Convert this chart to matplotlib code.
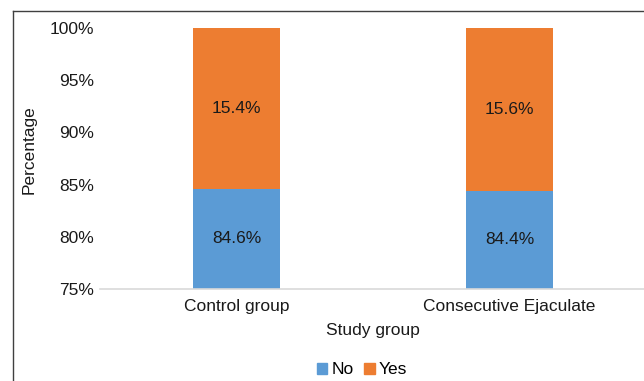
import matplotlib
matplotlib.use("Agg")
import matplotlib.pyplot as plt
from matplotlib.lines import Line2D
from matplotlib.ticker import FuncFormatter

plt.rcParams['font.family'] = ['Liberation Sans', 'DejaVu Sans']

categories = ["Control group", "Consecutive Ejaculate"]
no_vals = [84.6, 84.4]
yes_vals = [15.4, 15.6]
yticks = [75, 80, 85, 90, 95, 100]

blue = "#5B9BD5"
orange = "#ED7D31"
fs = 12.5
tc = "#1a1a1a"

fig = plt.figure(figsize=(6.44, 3.81), dpi=100)
ax = fig.add_axes([100/644, (381-289)/381, 546/644, 261/381])

x = list(range(len(categories)))
w = 0.32
ax.bar(x, no_vals, width=w, color=blue, label="No", zorder=2)
ax.bar(x, yes_vals, width=w, bottom=no_vals, color=orange, label="Yes", zorder=2)

ymin, ymax = 75, 100
ax.set_ylim(ymin, ymax)
ax.set_xlim(-0.5, 1.5)
ax.set_yticks(yticks)
ax.yaxis.set_major_formatter(FuncFormatter(lambda v, p: f"{v:.0f}%"))
ax.set_xticks(x)
ax.set_xticklabels(categories)

for i in x:
    lo = max(ymin, 0)
    hi = no_vals[i]
    ax.text(i, (lo + hi) / 2, f"{no_vals[i]:.1f}%", ha="center", va="center", fontsize=fs, color=tc)
    lo2 = no_vals[i]
    hi2 = min(ymax, no_vals[i] + yes_vals[i])
    ax.text(i, (lo2 + hi2) / 2, f"{yes_vals[i]:.1f}%", ha="center", va="center", fontsize=fs, color=tc)

for s in ["top", "right", "left"]:
    ax.spines[s].set_visible(False)
ax.spines["bottom"].set_color("#D9D9D9")
ax.spines["bottom"].set_linewidth(1.2)
ax.tick_params(axis="both", length=0, labelsize=fs, colors=tc)
ax.tick_params(axis="y", pad=4)
ax.tick_params(axis="x", pad=7)

ax.set_xlabel("Study group", fontsize=fs, color=tc, labelpad=7)
ax.set_ylabel("Percentage", fontsize=fs, color=tc)
ax.yaxis.set_label_coords(-63/546, (289-150)/261)

leg = fig.legend(handles=[plt.Rectangle((0, 0), 1, 1, color=blue), plt.Rectangle((0, 0), 1, 1, color=orange)],
                 labels=["No", "Yes"], loc="center", bbox_to_anchor=(362/644, 1 - 370/381), ncol=2,
                 frameon=False, fontsize=fs, handlelength=0.6, handleheight=0.6,
                 handletextpad=0.25, columnspacing=0.6)

# outer frame (top and left edges)
fig.add_artist(Line2D([13/644, 1], [1 - 11/381, 1 - 11/381], transform=fig.transFigure, color="#404040", lw=1))
fig.add_artist(Line2D([13/644, 13/644], [0, 1 - 11/381], transform=fig.transFigure, color="#404040", lw=1))

fig.savefig("out.png", dpi=100)
